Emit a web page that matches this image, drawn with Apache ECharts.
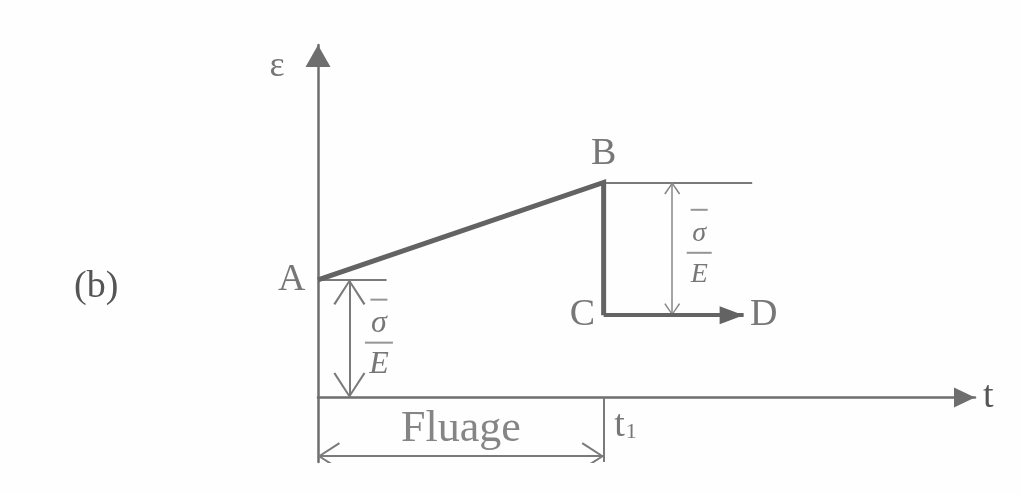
<!DOCTYPE html>
<html>
<head>
<meta charset="utf-8">
<script src="https://cdn.jsdelivr.net/npm/echarts@6/dist/echarts.min.js"></script>
<style>
  html, body { margin: 0; padding: 0; background: #fefefe; }
  #chart { width: 1021px; height: 494px; }
</style>
</head>
<body>
<div id="chart"></div>
<script>
// Strain ε versus time t: loading at A, creep A→B, unloading B→C at t1, then C→D.
const pointNames = ['A', 'B', 'C', 'D'];
const pointTime = [0, 5, 5, 7.45];
const pointStrain = [1.0, 1.83, 0.70, 0.70];
const t1 = 5;
const sigmaOverE = 1.0;          // instantaneous elastic strain σ/E
const axisTimeMax = 11.5;
const axisStrainRange = [-0.55, 3.0];

const SERIF = "'Liberation Serif', 'DejaVu Serif', serif";
const INK = '#636363';
const THIN = '#7a7a7a';
const TEXT = '#555555';

const pts = pointNames.map((n, i) => [pointTime[i], pointStrain[i]]);
const [A, B, C, D] = pts;

// Arrow heads drawn in pixel units inside a square box centred on the tip,
// so a symbolSize equal to the box side keeps them at 1:1 scale.
function headBox(halfW, len) { return Math.max(halfW, len); }
function triHead(halfW, len) {
  const s = headBox(halfW, len);
  return { path: `path://M${-s},${-s} M${s},${s} M0,0 L${halfW},${len} L${-halfW},${len} Z`, size: 2 * s };
}
function vHead(halfW, len, t) {
  const s = headBox(halfW, len);
  const k = t / Math.hypot(halfW, len);
  const dx = len * k, dy = halfW * k;
  return {
    path: `path://M${-s},${-s} M${s},${s} M0,0 L${halfW},${len} L${halfW - dx},${len + dy} ` +
          `L0,${t * 1.6} L${-halfW + dx},${len + dy} L${-halfW},${len} Z`,
    size: 2 * s
  };
}
// Axis arrows keep their aspect ratio, so these carry an explicit [w, h].
const axisTri = (w, l) => `path://M0,${-l} M0,0 L${w / 2},${l} L${-w / 2},${l} Z`;

const recoveryHead = triHead(9, 24);
const bigHead = vHead(16, 25, 2.2);
const creepHead = vHead(14, 22, 2.2);
const smallHead = vHead(8, 12, 1.6);

function fraction(fontSize, overW, barW) {
  return {
    formatter: '{ob| }\n{s|σ}\n{fb| }\n{e|E}',
    rich: {
      ob: { width: overW, height: 2, lineHeight: 14, backgroundColor: THIN, align: 'center' },
      s: { fontFamily: SERIF, fontStyle: 'italic', fontSize: fontSize, lineHeight: 34, color: TEXT, align: 'center' },
      fb: { width: barW, height: 2, lineHeight: 4, backgroundColor: THIN, align: 'center' },
      e: { fontFamily: SERIF, fontStyle: 'italic', fontSize: fontSize, lineHeight: 40, color: TEXT, align: 'center' }
    }
  };
}

const letterPlacement = {
  A: { position: 'left', distance: 12 },
  B: { position: 'top', distance: 9 },
  C: { position: 'left', distance: 8 },
  D: { position: 'right', distance: 6 }
};

const letterLabels = pointNames.map((n, i) => ({
  value: pts[i],
  label: Object.assign({
    show: true, formatter: n, fontFamily: SERIF, fontSize: 38, color: TEXT
  }, letterPlacement[n])
}));

const leftDimX = 0.55, rightDimX = 6.2, creepArrowY = -0.5;

const textLabels = [
  { value: [0, 2.82], label: { show: true, position: 'left', distance: 33, formatter: 'ε', fontFamily: SERIF, fontSize: 36, color: TEXT } },
  { value: [t1 / 2, creepArrowY], label: { show: true, position: 'top', distance: 4, formatter: 'Fluage', fontFamily: SERIF, fontSize: 44, color: '#666' } },
  { value: [t1, -0.24], label: { show: true, position: 'right', distance: 10, formatter: '{t|t}{n|1}',
      rich: { t: { fontFamily: SERIF, fontSize: 38, color: TEXT }, n: { fontFamily: SERIF, fontSize: 22, color: TEXT, padding: [14, 0, 0, 1] } } } },
  { value: [leftDimX, sigmaOverE / 2], label: Object.assign({ show: true, position: 'right', distance: 15 }, fraction(32, 17, 28)) },
  { value: [rightDimX, (B[1] + C[1]) / 2], label: Object.assign({ show: true, position: 'right', distance: 14 }, fraction(28, 17, 25)) }
];

const chart = echarts.init(document.getElementById('chart'), null, { renderer: 'canvas' });

chart.setOption({
  backgroundColor: '#fefefe',
  animation: false,
  grid: { left: 318, right: 46, top: 45, bottom: 32 },
  xAxis: {
    type: 'value', min: 0, max: axisTimeMax,
    name: 't', nameLocation: 'end', nameGap: 8,
    nameTextStyle: { fontFamily: SERIF, fontSize: 38, color: TEXT, verticalAlign: 'middle' },
    axisLine: { onZero: true, symbol: ['none', axisTri(20, 21)], symbolSize: [20, 42], lineStyle: { color: '#6e6e6e', width: 2.5 } },
    axisTick: { show: false }, axisLabel: { show: false }, splitLine: { show: false }
  },
  yAxis: {
    type: 'value', min: axisStrainRange[0], max: axisStrainRange[1],
    axisLine: { onZero: false, symbol: ['none', axisTri(25, 22)], symbolSize: [25, 44], lineStyle: { color: '#6e6e6e', width: 2.5 } },
    axisTick: { show: false }, axisLabel: { show: false }, splitLine: { show: false }
  },
  graphic: [{
    type: 'text', left: 74, top: 268,
    style: { text: '(b)', font: `38px ${SERIF}`, fill: TEXT }
  }],
  series: [
    {
      name: 'creep-unload', type: 'lines', coordinateSystem: 'cartesian2d', polyline: true,
      data: [{ coords: [A, B, C] }],
      symbol: 'none', lineStyle: { color: INK, width: 5, opacity: 1, join: 'miter' }, z: 5
    },
    {
      name: 'recovery', type: 'lines', coordinateSystem: 'cartesian2d',
      data: [{ coords: [C, D] }],
      symbol: ['none', recoveryHead.path], symbolSize: [1, recoveryHead.size],
      lineStyle: { color: INK, width: 4, opacity: 1 }, z: 5
    },
    {
      name: 'guides', type: 'lines', coordinateSystem: 'cartesian2d',
      data: [
        { coords: [A, [1.2, A[1]]] },
        { coords: [B, [7.6, B[1]]] },
        { coords: [[t1, 0], [t1, axisStrainRange[0]]] }
      ],
      symbol: 'none', lineStyle: { color: THIN, width: 2, opacity: 1 }, z: 3
    },
    {
      name: 'dim-strain', type: 'lines', coordinateSystem: 'cartesian2d',
      data: [{ coords: [[leftDimX, 0], [leftDimX, sigmaOverE]] }],
      symbol: [bigHead.path, bigHead.path], symbolSize: [bigHead.size, bigHead.size],
      lineStyle: { color: THIN, width: 2, opacity: 1 }, z: 3
    },
    {
      name: 'dim-creep', type: 'lines', coordinateSystem: 'cartesian2d',
      data: [{ coords: [[0, creepArrowY], [t1, creepArrowY]] }],
      symbol: [creepHead.path, creepHead.path], symbolSize: [creepHead.size, creepHead.size],
      lineStyle: { color: THIN, width: 2, opacity: 1 }, z: 3
    },
    {
      name: 'dim-recovery', type: 'lines', coordinateSystem: 'cartesian2d',
      data: [{ coords: [[rightDimX, C[1]], [rightDimX, B[1]]] }],
      symbol: [smallHead.path, smallHead.path], symbolSize: [smallHead.size, smallHead.size],
      lineStyle: { color: '#868686', width: 1.5, opacity: 1 }, z: 3
    },
    {
      name: 'point-labels', type: 'scatter', clip: false,
      symbolSize: 1, itemStyle: { color: 'transparent' },
      data: letterLabels, z: 6
    },
    {
      name: 'text-labels', type: 'scatter', clip: false,
      symbolSize: 1, itemStyle: { color: 'transparent' },
      data: textLabels, z: 6
    }
  ]
});
</script>
</body>
</html>
